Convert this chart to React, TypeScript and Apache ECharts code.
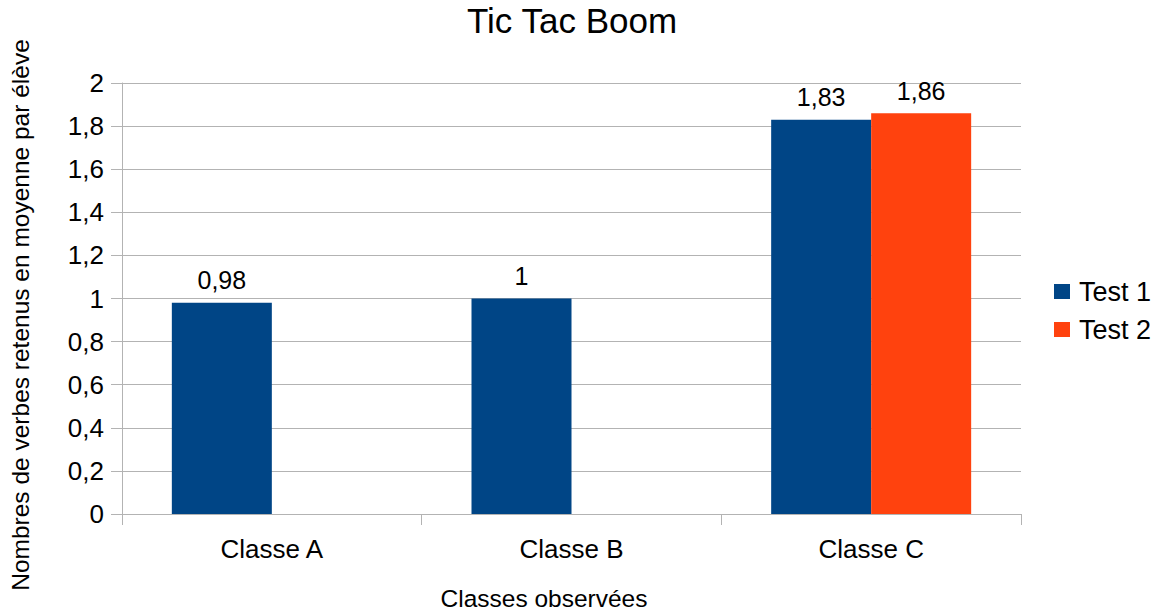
import React, { useEffect, useRef } from "react";
import * as echarts from "echarts";

const categories = ["Classe A", "Classe B", "Classe C"];
const test1 = [0.98, 1, 1.83];
const test2: (number | null)[] = [null, null, 1.86];
const yTicks = { min: 0, max: 2, interval: 0.2 };

const FONT = "'Liberation Sans', Arial, sans-serif";
const fmt = (v: number) => String(Math.round(v * 100) / 100).replace(".", ",");

export default function App() {
  const ref = useRef<HTMLDivElement>(null);
  useEffect(() => {
    if (!ref.current) return;
    const chart = echarts.init(ref.current, undefined, { renderer: "svg" });
    chart.setOption({
      animation: false,
      backgroundColor: "#ffffff",
      textStyle: { fontFamily: FONT },
      title: {
        text: "Tic Tac Boom",
        left: 467,
        top: 3,
        padding: 0,
        textStyle: { fontFamily: FONT, fontSize: 35, fontWeight: "normal", color: "#000" },
      },
      legend: {
        orient: "vertical",
        left: 1054,
        top: 278,
        padding: 0,
        itemWidth: 16,
        itemHeight: 15,
        itemGap: 11,
        icon: "rect",
        textStyle: { fontFamily: FONT, fontSize: 27, color: "#000", padding: [0, 0, 0, 4] },
        data: ["Test 1", "Test 2"],
      },
      grid: { left: 122, right: 141, top: 83, bottom: 98, containLabel: false },
      xAxis: {
        type: "category",
        data: categories,
        axisLine: { lineStyle: { color: "#b3b3b3" } },
        axisTick: { show: true, length: 11, alignWithLabel: false, lineStyle: { color: "#b3b3b3" } },
        axisLabel: { fontFamily: FONT, fontSize: 26, color: "#000", margin: 22 },
      },
      yAxis: {
        type: "value",
        min: yTicks.min,
        max: yTicks.max,
        interval: yTicks.interval,
        axisLine: { show: true, lineStyle: { color: "#b3b3b3" } },
        axisTick: { show: true, length: 11, lineStyle: { color: "#b3b3b3" } },
        splitLine: { lineStyle: { color: "#b3b3b3" } },
        axisLabel: { fontFamily: FONT, fontSize: 26, color: "#000", margin: 18, formatter: fmt },
      },
      graphic: [
        {
          type: "text",
          x: 20,
          y: 315,
          rotation: Math.PI / 2,
          style: {
            text: "Nombres de verbes retenus en moyenne par élève",
            fontFamily: FONT,
            fontSize: 24.5,
            fill: "#000",
            align: "center",
            verticalAlign: "middle",
          },
        },
        {
          type: "text",
          x: 544,
          y: 598,
          style: {
            text: "Classes observées",
            fontFamily: FONT,
            fontSize: 24.5,
            fill: "#000",
            align: "center",
            verticalAlign: "middle",
          },
        },
      ],
      series: [
        {
          name: "Test 1",
          type: "bar",
          data: test1,
          barWidth: 100,
          barGap: "0%",
          itemStyle: { color: "#004586" },
          label: {
            show: true,
            position: "top",
            distance: 10,
            fontFamily: FONT,
            fontSize: 25,
            color: "#000",
            formatter: (p: any) => fmt(p.value),
          },
        },
        {
          name: "Test 2",
          type: "bar",
          data: test2,
          barWidth: 100,
          barGap: "0%",
          itemStyle: { color: "#ff420e" },
          label: {
            show: true,
            position: "top",
            distance: 10,
            fontFamily: FONT,
            fontSize: 25,
            color: "#000",
            formatter: (p: any) => fmt(p.value),
          },
        },
      ],
    });
    return () => chart.dispose();
  }, []);
  return <div ref={ref} style={{ position: "absolute", left: 0, top: 0, width: 1162, height: 612 }} />;
}
